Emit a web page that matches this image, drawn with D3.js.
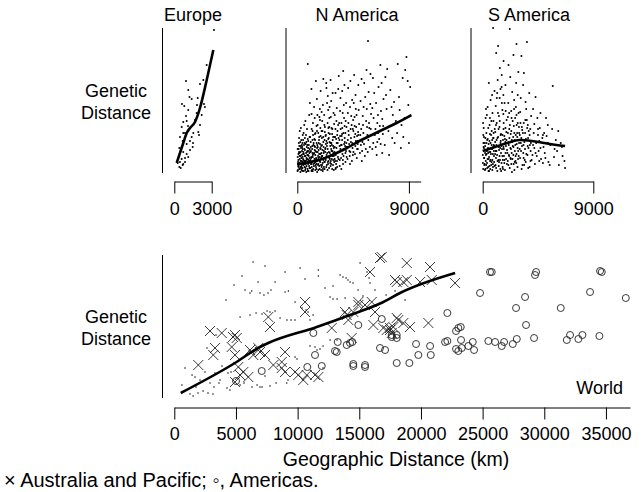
<!DOCTYPE html>
<html>
<head>
<meta charset="utf-8">
<script src="https://cdn.jsdelivr.net/npm/d3@7"></script>
<style>
  body { margin: 0; background: #fff; }
  text { font-family: "Liberation Sans", Arial, sans-serif; font-size: 18px; fill: #000; }
</style>
</head>
<body>
<div id="chart"></div>
<script>
// ---- data: [geographic distance km, genetic distance (arbitrary units)] ----
var europePoints = [[3185,143],[2325,93],[2060,89],[940,92],[1120,83],[1220,76],[1395,74],[1875,75],[615,69],[800,67],
  [2380,69],[2460,66],[1120,63],[940,57],[1795,60],[2195,58],[720,51],[995,52],[595,46],[2060,48],[1925,41],[1980,38],
  [720,40],[860,40],[1525,40],[1395,36],[455,36],[675,32],[1260,32],[995,29],[1500,30],[1475,26],[400,25],[595,26],
  [720,21],[995,19],[1120,16],[860,15],[595,14],[455,11],[720,9],[400,6],[515,5],[675,8],[860,11],[275,10],[1260,23],
  [1660,53],[1820,68],[1100,47],[2600,108]];
var europeFit = [[190,10],[720,30],[995,40],[1260,45],[1660,51],[2060,65],[2600,93],[3130,123]];

var nAmericaPoints = [
  [50,3],[120,8],[200,14],[310,5],[380,22],[450,11],[520,2],[600,17],[680,9],[760,26],[830,4],[900,13],[970,20],[90,19],
  [160,27],[240,6],[330,15],[410,30],[490,8],[570,24],[640,12],[720,1],[800,18],[880,32],[950,7],[60,11],[140,35],[260,21],
  [350,3],[430,16],[510,40],[590,6],[670,29],[750,13],[820,22],[910,2],[990,36],[110,24],[290,45],[470,33],[650,52],[850,109],
  [700,38],[200,42],[560,48],[930,28],[400,9],[780,44],[30,16],[240,31],[610,35],[960,58],[150,4],[370,28],[530,19],[740,7],
  [880,25],[180,10],[440,38],[990,15],
  [1050,5],[1130,16],[1210,27],[1290,9],[1370,34],[1450,3],[1530,21],[1610,12],[1690,40],[1770,7],[1850,25],[1930,15],
  [1080,31],[1160,44],[1240,2],[1320,19],[1400,55],[1480,11],[1560,30],[1640,48],[1720,23],[1800,4],[1880,37],[1960,61],
  [1020,70],[1100,22],[1190,11],[1270,38],[1350,66],[1430,26],[1510,6],[1590,42],[1670,17],[1750,33],[1830,53],[1910,8],
  [1990,28],[1140,84],[1260,50],[1380,14],[1500,92],[1620,58],[1740,13],[1860,45],[1980,35],[1060,13],[1220,20],[1420,39],
  [1580,74],[1780,56],[1940,20],[1300,28],[1700,3],[1550,47],[1150,59],[1880,82],[1650,26],[1450,18],[1230,42],[1820,64],
  [2040,10],[2120,26],[2200,4],[2280,37],[2360,18],[2440,50],[2520,12],[2600,31],[2680,7],[2760,45],[2840,22],[2920,60],
  [2060,68],[2140,15],[2220,41],[2300,29],[2380,8],[2460,77],[2540,35],[2620,20],[2700,56],[2780,14],[2860,33],[2940,3],
  [2010,52],[2090,36],[2170,58],[2250,21],[2330,90],[2410,30],[2490,63],[2570,46],[2650,10],[2730,72],[2810,39],[2890,27],
  [2970,49],[2100,94],[2350,85],[2600,66],[2850,80],[2150,6],[2450,24],[2750,30],[2950,17],[2230,46],[2520,40],[2680,93],
  [2030,23],[2300,13],[2580,55],[2880,8],[2400,70],[2700,18],[2200,33],
  [3050,12],[3130,34],[3210,6],[3290,48],[3370,21],[3450,62],[3530,15],[3610,39],[3690,9],[3770,55],[3850,27],[3930,70],
  [3080,80],[3160,25],[3240,42],[3320,14],[3400,33],[3480,75],[3560,50],[3640,19],[3720,40],[3800,88],[3880,11],[3960,46],
  [3020,58],[3100,18],[3180,65],[3260,30],[3340,97],[3420,7],[3500,44],[3580,28],[3660,60],[3740,24],[3820,35],[3900,52],
  [3980,16],[3300,84],[3700,102],[3550,4],[3150,52],[3450,37],[3750,68],[3950,30],[3050,36],[3620,82],[3880,20],[3200,12],
  [4050,14],[4150,38],[4250,9],[4350,57],[4450,25],[4550,70],[4650,19],[4750,46],[4850,32],[4950,63],[4100,85],[4200,22],
  [4300,44],[4400,12],[4500,53],[4600,36],[4700,78],[4800,15],[4900,41],[4080,60],[4180,29],[4280,92],[4380,48],[4480,18],
  [4580,98],[4680,27],[4780,58],[4880,24],[4980,49],[4120,50],[4320,31],[4520,42],[4720,64],[4920,88],[4420,73],[4620,56],
  [4820,37],[4250,66],
  [5050,20],[5150,44],[5250,31],[5350,66],[5450,17],[5550,52],[5650,38],[5750,81],[5850,26],[5950,59],[5100,72],[5200,12],
  [5300,48],[5400,90],[5500,35],[5600,64],[5700,132],[5800,45],[5900,99],[5080,38],[5280,57],[5480,76],[5680,21],[5880,69],
  [5180,94],[5580,103],[5380,29],[5780,50],
  [6050,24],[6150,55],[6250,38],[6350,70],[6450,31],[6550,86],[6650,47],[6750,62],[6850,20],[6950,74],[6100,95],[6300,44],
  [6500,58],[6700,108],[6900,39],[6200,80],[6400,18],[6600,34],[6800,90],[6050,65],[6450,50],[6850,54],
  [7050,28],[7200,64],[7350,42],[7500,83],[7650,35],[7800,71],[7950,52],[7100,96],[7400,18],[7700,58],[7250,104],[7550,47],
  [7850,30],[7150,78],[7600,66],
  [8050,40],[8200,76],[8350,25],[8500,95],[8650,55],[8800,116],[8950,68],[9100,86],[8100,109],[8400,48],[8700,103],[9000,30],
  [8250,63],[8550,36],[8900,92],
  [70,7],[250,1],[420,5],[580,12],[700,20],[870,9],[1000,24],[1180,3],[1340,7],[1520,15],[1700,9],[1860,19],[2050,2],
  [2220,11],[2390,16],[2560,5],[2730,24],[2900,13],[300,25],[460,19],[640,3],[920,17],[1110,9],[1400,23],[1600,1],[1810,12],
  [2130,20],[2480,9],[2810,4],[3000,21],[170,20],[540,28],[1250,16],[1960,6],[2620,14],[360,12],[820,14],[1480,8],[2270,25],
  [3100,5],
  [15,2],[85,13],[135,21],[215,9],[275,17],[345,7],[395,26],[465,14],[535,10],[615,23],[665,5],[735,15],[805,28],[865,18],
  [945,10],[25,24],[105,6],[185,17],[265,12],[325,33],[415,2],[495,21],[575,9],[655,17],[725,31],[795,11],[855,2],[935,22],
  [45,9],[125,30],[205,4],[285,27],[355,18],[435,24],[505,13],[585,30],[705,10],[775,21],[845,34],[985,5],
  [1015,12],[1085,26],[1165,6],[1245,18],[1315,30],[1395,10],[1465,22],[1545,4],[1615,28],[1695,15],[1765,36],[1845,11],
  [1925,27],[1995,8],[1035,36],[1115,15],[1195,24],[1275,4],[1355,20],[1435,33],[1515,14],[1595,25],[1675,8],[1755,19],
  [1835,29],[1915,3],[1975,17],[1065,21],[1145,2],[1225,33],[1305,12],[1385,27],[1465,40],[1565,9],[1645,21],[1725,30],
  [1805,16],[1885,24],[1955,42],[1125,9],
  [2015,17],[2095,31],[2175,11],[2255,24],[2335,6],[2415,20],[2495,34],[2575,15],[2655,27],[2735,9],[2815,18],[2895,36],
  [2975,11],[2065,4],[2145,22],[2225,15],[2305,38],[2385,27],[2465,11],[2545,21],[2625,39],[2705,12],[2785,28],[2865,17],
  [2945,25],[2025,42],[2185,48],[2345,32],[2505,45],[2665,30],[2825,44],[2985,36],[2115,13],[2435,3],[2755,22],[2905,20],
  [3025,26],[3125,9],[3225,20],[3325,35],[3425,13],[3525,28],[3625,45],[3725,17],[3825,31],[3925,22],[3075,44],[3175,30],
  [3275,16],[3375,50],[3475,24],[3575,37],[3675,13],[3775,29],[3875,40],[3975,26],[3015,14],[3215,38],[3415,27],[3615,33],
  [3815,47],[3085,4],
  [4025,26],[4125,42],[4225,17],[4325,35],[4425,30],[4525,21],[4625,47],[4725,32],[4825,24],[4925,38],[4075,33],[4275,21],
  [4475,44],[4675,39],[4875,29],
  [5125,28],[5325,40],[5525,24],[5725,33],[5925,44],[6125,30],[6325,26],[6525,40],[6725,29],[6925,47],[5225,22],[5625,46]];
var nAmericaFit = [[0,9],[1000,11],[2000,14],[3000,19],[4000,25],[5000,32],[6000,38],[7000,44],[8000,50],[9200,58]];

var sAmericaPoints = [
  [40,4],[120,15],[200,27],[280,8],[360,33],[440,20],[520,2],[600,12],[680,38],[760,24],[840,6],[920,17],[80,45],[160,9],
  [240,55],[320,19],[400,66],[480,29],[560,48],[640,73],[720,11],[800,60],[880,35],[960,82],[100,25],[300,40],[500,90],
  [700,52],[900,28],[850,145],[400,14],[620,21],[220,35],[780,3],[980,44],[60,30],[340,58],[560,7],[760,78],[930,11],
  [1040,8],[1120,22],[1200,35],[1280,13],[1360,46],[1440,4],[1520,27],[1600,17],[1680,59],[1760,10],[1840,31],[1920,41],
  [1060,67],[1140,50],[1220,93],[1300,26],[1380,75],[1460,38],[1540,86],[1620,6],[1700,44],[1780,70],[1860,20],[1940,53],
  [1100,120],[1250,127],[1400,105],[1550,98],[1700,112],[1850,88],[1080,15],[1320,57],[1500,2],[1650,33],[1900,14],[1180,80],
  [1420,25],[1760,37],[1020,41],[1600,63],
  [2040,12],[2120,28],[2200,5],[2280,39],[2360,20],[2440,52],[2520,9],[2600,33],[2680,17],[2760,48],[2840,25],[2920,60],
  [2080,70],[2160,44],[2240,96],[2320,62],[2400,81],[2480,36],[2560,73],[2640,55],[2720,90],[2800,40],[2880,14],[2960,30],
  [2200,144],[2100,108],[2500,118],[2750,129],[2900,101],[2300,24],[2580,3],[2700,66],[2050,56],[2420,14],[2850,78],[2620,22],
  [3040,15],[3140,35],[3240,8],[3340,50],[3440,24],[3540,64],[3640,18],[3740,42],[3840,28],[3940,57],[3090,75],[3190,46],
  [3290,88],[3390,31],[3490,71],[3590,53],[3690,35],[3790,80],[3890,12],[3150,117],[3350,100],[3600,131],[3300,20],[3700,5],
  [3050,61],[3450,40],[3900,22],[3200,27],
  [4050,18],[4150,40],[4250,9],[4350,30],[4450,55],[4550,22],[4650,45],[4750,14],[4850,35],[4950,26],[4100,64],[4300,76],
  [4500,38],[4700,60],[4900,10],[4200,25],[4600,32],[4400,17],
  [5050,20],[5200,37],[5350,11],[5500,28],[5650,44],[5800,16],[5950,33],[5700,87],[5150,55],[5450,8],[5850,24],[5300,48],
  [6050,22],[6200,8],[6350,30],[6500,17],[6650,12],[6150,42],[6450,26],[6700,5],
  [20,10],[180,3],[350,22],[520,16],[690,8],[860,26],[1010,19],[1190,2],[1330,11],[1490,20],[1640,13],[1810,3],[1980,23],
  [2150,17],[2330,9],[2500,26],[2670,12],[2830,6],[3010,24],[3170,4],[3330,15],[3500,11],[3660,27],[3820,6],[260,18],[450,6],
  [640,30],[830,19],[1120,28],[1470,32],[1720,24],[2060,30],[2380,1],[2750,19],[3100,30],[3550,19],[3980,13],[100,36],
  [1300,7],[2260,15],
  [10,18],[70,26],[130,8],[190,20],[250,12],[310,30],[370,5],[430,25],[490,14],[550,32],[610,4],[670,19],[730,28],[790,13],
  [850,35],[910,22],[970,7],[50,38],[110,15],[170,30],[230,4],[290,22],[350,10],[410,34],[470,2],[530,21],[590,39],[650,13],
  [710,25],[770,33],[830,9],[890,40],[950,27],[30,50],[270,64],[450,45],[590,55],[730,42],[870,52],
  [1010,31],[1090,5],[1170,18],[1250,36],[1330,23],[1410,13],[1490,39],[1570,24],[1650,4],[1730,17],[1810,34],[1890,27],
  [1970,9],[1050,22],[1130,33],[1210,12],[1290,44],[1370,17],[1450,30],[1530,10],[1610,38],[1690,26],[1770,13],[1850,45],
  [1930,33],[1080,48],[1240,60],[1390,52],[1560,70],[1710,50],[1870,62],[1150,75],[1450,84],[1680,78],
  [2010,20],[2090,8],[2170,35],[2250,25],[2330,42],[2410,31],[2490,18],[2570,40],[2650,28],[2730,10],[2810,36],[2890,22],
  [2970,40],[2050,40],[2130,18],[2210,48],[2290,14],[2370,33],[2450,27],[2530,47],[2610,11],[2690,38],[2770,29],[2850,50],
  [2930,17],[2150,60],[2350,55],[2550,64],[2750,58],[2950,46],
  [3020,38],[3120,22],[3220,43],[3320,28],[3420,13],[3520,34],[3620,45],[3720,25],[3820,38],[3920,30],[3070,50],[3270,40],
  [3470,53],[3670,48],[3870,44],[3370,8],
  [4100,28],[4300,20],[4500,44],[4700,25],[4900,38],[5100,15],[5300,30],[4200,49],[4600,12],[5000,40]];
var sAmericaFit = [[0,22],[1000,26],[2000,30],[3000,33],[4000,32],[5000,30],[6000,28],[6700,27]];

var worldDots = [[870,30],[620,13],[1275,4],[1520,2],[1920,5],[2330,7],[2735,5],[3140,4],[1440,23],[1680,21],[2085,18],
  [1760,11],[2490,18],[2895,15],[3220,11],[3625,15],[3705,18],[4355,25],[4600,26],[4275,10],[4515,8],[5330,13],[5650,15],
  [6300,11],[6710,13],[7110,11],[7760,12],[8250,15],[7355,22],[9220,18],[2490,26],[3300,25],[3870,32],[5330,81],[6140,83],
  [6630,85],[7110,84],[7520,87],[6140,105],[6275,107],[6950,105],[7270,103],[7600,105],[7840,108],[8170,116],[8980,106],
  [9250,107],[9790,96],[10600,119],[11680,128],[11680,122],[13440,123],[13680,121],[13925,120],[14085,118],[14250,116],
  [14490,115],[12630,101],[12870,99],[13195,99],[13845,100],[10355,90],[10680,88],[10840,86],[11250,83],[11005,78],
  [9140,78],[9465,78],[9790,78],[7760,86],[8170,87],[8575,80],[11005,52],[11410,51],[11815,49],[12060,52],[11570,48],
  [9790,41],[9950,39],[6950,11],[9115,15],[10435,18],[12060,30],[12630,58],[13195,58],[15630,126],[15870,115],[15790,120],
  [15060,135],[10195,130],[8980,126],[7355,132],[6385,136],[5490,122],[4840,113],[6790,116],[4190,98],[2650,50],[3380,63],
  [5735,108],[12220,110],[12870,112],[14900,108],[15300,102],[16275,108],[17170,103],[17900,107],[18710,98]];
var worldPacific = [[2895,67],[3845,65],[4920,63],[5060,60],[4760,61],[3300,50],[3160,43],[4655,51],[4920,43],[1945,33],
  [5190,31],[5595,26],[5330,23],[6000,21],[4920,16],[6140,48],[6405,43],[6810,50],[6950,46],[7620,81],[7760,71],[7355,43],
  [8030,33],[8710,36],[8980,46],[8710,30],[8980,26],[9790,26],[10055,23],[10460,18],[10740,23],[11410,23],[11680,21],
  [10600,96],[10600,86],[12765,70],[13980,83],[13845,86],[14520,86],[14920,96],[14920,93],[14110,78],[14385,60],[15465,93],
  [16010,96],[16275,86],[16140,73],[16680,140],[16820,141],[15870,126],[18035,116],[16950,70],[17225,68],[17495,70],
  [18035,80],[18850,135],[20735,131],[17900,118],[18570,116],[18850,118],[19925,116],[20875,118],[22765,115],[18165,78],
  [18570,75],[17760,71],[19115,71],[20600,75],[17495,68],[17630,65]];
var worldAmericas = [[5005,17],[7090,27],[11275,65],[11410,43],[10785,31],[11955,32],[13030,47],[13250,56],[13170,46],
  [13980,53],[14250,55],[14435,56],[14920,73],[14515,34],[14515,32],[15465,33],[15465,31],[16680,50],[17090,48],[16820,79],
  [17630,61],[18035,63],[18035,35],[17630,63],[18035,60],[19060,35],[19600,54],[19790,43],[20740,52],[20795,43],[21955,56],
  [22140,57],[22140,85],[22845,67],[23225,71],[23030,70],[22845,49],[23030,47],[23310,50],[23845,52],[24200,56],[24305,48],
  [23250,58],[24790,105],[25465,57],[26010,56],[26550,52],[26740,56],[27445,54],[27770,59],[25600,126],[25740,126],
  [27710,90],[28440,101],[28520,73],[29170,60],[29335,126],[29250,123],[31335,90],[31825,58],[32090,63],[32765,59],
  [33090,63],[33710,106],[34470,62],[34525,127],[34660,126],[36610,100]];
var worldFit = [[520,5],[4785,34],[6950,51],[7620,55],[11550,71],[14250,83],[16950,96],[18300,105],[22770,125]];

var topTicks = { Europe: [0, 3000], "N America": [0, 9000], "S America": [0, 9000] };
var worldTicks = [0, 5000, 10000, 15000, 20000, 25000, 30000, 35000];

// ---- layout ----
var svg = d3.select("#chart").append("svg")
  .attr("width", 644)
  .attr("height", 492);

var topY = d3.scaleLinear().domain([0, 145]).range([173, 28]);
var worldY = d3.scaleLinear().domain([0, 143]).range([398, 255]);

var panels = [
  { name: "Europe", pts: europePoints, fit: europeFit, dmax: 3000, x0: 174.3, x1: 211.7, yAxisX: 162.5, titleX: 193 },
  { name: "N America", pts: nAmericaPoints, fit: nAmericaFit, dmax: 9950, x0: 297.3, x1: 420.7, yAxisX: 286, titleX: 357 },
  { name: "S America", pts: sAmericaPoints, fit: sAmericaFit, dmax: 9000, x0: 482.7, x1: 593.3, yAxisX: 471, titleX: 529 }
];

function styleAxis(g, labelY) {
  g.attr("font-family", null).attr("font-size", null);
  g.select(".domain").attr("stroke", "#000").attr("stroke-width", 1);
  g.selectAll(".tick line").attr("stroke", "#000").attr("stroke-width", 1);
  g.selectAll(".tick text").attr("y", labelY).attr("dy", null);
}

panels.forEach(function(p) {
  var x = d3.scaleLinear().domain([0, p.dmax]).range([p.x0, p.x1]);

  svg.append("line")
    .attr("x1", p.yAxisX).attr("x2", p.yAxisX)
    .attr("y1", topY.range()[1]).attr("y2", topY.range()[0])
    .attr("stroke", "#000");

  svg.append("g")
    .attr("transform", "translate(0,181.5)")
    .call(d3.axisBottom(x).tickValues(topTicks[p.name]).tickFormat(d3.format("d")).tickSize(12).tickSizeOuter(0))
    .call(styleAxis, 33.5);

  // sample points drawn as small dark dots
  svg.append("g").selectAll("circle")
    .data(p.pts)
    .enter()
    .append("circle")
    .attr("cx", d => x(d[0]))
    .attr("cy", d => topY(d[1]))
    .attr("r", 1.0)
    .attr("fill", "#000");

  svg.append("path")
    .datum(p.fit)
    .attr("d", d3.line().x(d => x(d[0])).y(d => topY(d[1])).curve(d3.curveMonotoneX))
    .attr("fill", "none")
    .attr("stroke", "#000")
    .attr("stroke-width", 2.6);

  svg.append("text")
    .attr("x", p.titleX).attr("y", 21)
    .attr("text-anchor", "middle")
    .text(p.name);
});

// ---- world panel ----
var worldX = d3.scaleLinear().domain([0, 36950]).range([174.3, 630]);

svg.append("line")
  .attr("x1", 162.5).attr("x2", 162.5)
  .attr("y1", 255).attr("y2", 398)
  .attr("stroke", "#000");

svg.append("g")
  .attr("transform", "translate(0,407.5)")
  .call(d3.axisBottom(worldX).tickValues(worldTicks).tickFormat(d3.format("d")).tickSize(12).tickSizeOuter(0))
  .call(styleAxis, 32.5);

svg.append("g").selectAll("circle")
  .data(worldDots)
  .enter()
  .append("circle")
  .attr("cx", d => worldX(d[0]))
  .attr("cy", d => worldY(d[1]))
  .attr("r", 0.75)
  .attr("fill", "#000");

svg.append("g").selectAll("circle")
  .data(worldAmericas)
  .enter()
  .append("circle")
  .attr("cx", d => worldX(d[0]))
  .attr("cy", d => worldY(d[1]))
  .attr("r", 3.5)
  .attr("fill", "none")
  .attr("stroke", "#222")
  .attr("stroke-width", 0.9);

svg.append("g").selectAll("path")
  .data(worldPacific)
  .enter()
  .append("path")
  .attr("transform", d => `translate(${worldX(d[0])},${worldY(d[1])})`)
  .attr("d", "M-5,-5L5,5M-5,5L5,-5")
  .attr("fill", "none")
  .attr("stroke", "#222")
  .attr("stroke-width", 0.9);

svg.append("path")
  .datum(worldFit)
  .attr("d", d3.line().x(d => worldX(d[0])).y(d => worldY(d[1])).curve(d3.curveMonotoneX))
  .attr("fill", "none")
  .attr("stroke", "#000")
  .attr("stroke-width", 2.6);

svg.append("text")
  .attr("x", 623).attr("y", 394)
  .attr("text-anchor", "end")
  .text("World");

// ---- y labels ----
[[97, 118.5], [323, 344.5]].forEach(function(b) {
  svg.append("text").attr("x", 116).attr("y", b[0]).attr("text-anchor", "middle").text("Genetic");
  svg.append("text").attr("x", 116).attr("y", b[1]).attr("text-anchor", "middle").text("Distance");
});

svg.append("text")
  .attr("x", 396).attr("y", 466)
  .attr("text-anchor", "middle")
  .style("font-size", "19.5px")
  .text("Geographic Distance (km)");

svg.append("text")
  .attr("x", 4).attr("y", 487)
  .style("font-size", "20px")
  .text("\u00d7 Australia and Pacific; \u25e6, Americas.");
</script>
</body>
</html>
